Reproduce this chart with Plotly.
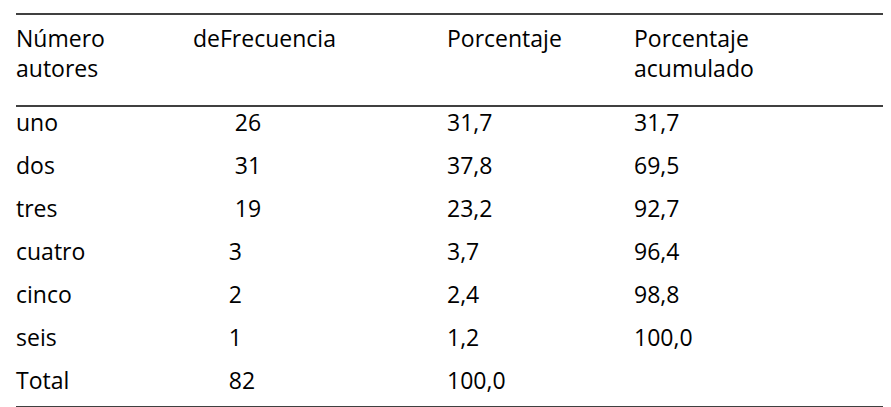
import plotly.graph_objects as go

# datos de la tabla
encabezados = ["Número<br>autores", "deFrecuencia<br> ", "Porcentaje<br> ", "Porcentaje<br>acumulado"]
autores = ["uno", "dos", "tres", "cuatro", "cinco", "seis", "Total"]
frecuencia = ["26", "31", "19", "3", "2", "1", "82"]
porcentaje = ["31,7", "37,8", "23,2", "3,7", "2,4", "1,2", "100,0"]
acumulado = ["31,7", "69,5", "92,7", "96,4", "98,8", "100,0", ""]

# sangría de la columna de frecuencia (en el original los números están desplazados)
sangria = ["\u00a0" * 7 if i < 3 else "\u00a0" * 6 for i in range(len(frecuencia))]
frec_txt = [s + f for s, f in zip(sangria, frecuencia)]

fuente = dict(family="Open Sans", size=23, color="black")

fig = go.Figure(go.Table(
    columnwidth=[177, 254, 187, 263],
    header=dict(values=encabezados, align="left", font=fuente,
                fill_color="white", line_color="white", height=92),
    cells=dict(values=[autores, frec_txt, porcentaje, acumulado], align="left",
               font=fuente, fill_color="white", line_color="white", height=43),
))

# líneas horizontales tipo tabla académica
for y in [1, 1 - 92 / 393, 0]:
    fig.add_shape(type="line", xref="paper", yref="paper", x0=8 / 881, x1=1, y0=y, y1=y,
                  line=dict(color="black", width=1.5))

fig.update_layout(width=891, height=407, margin=dict(l=0, r=10, t=6, b=8),
                  paper_bgcolor="white", plot_bgcolor="white")
fig.write_html("out.html")
